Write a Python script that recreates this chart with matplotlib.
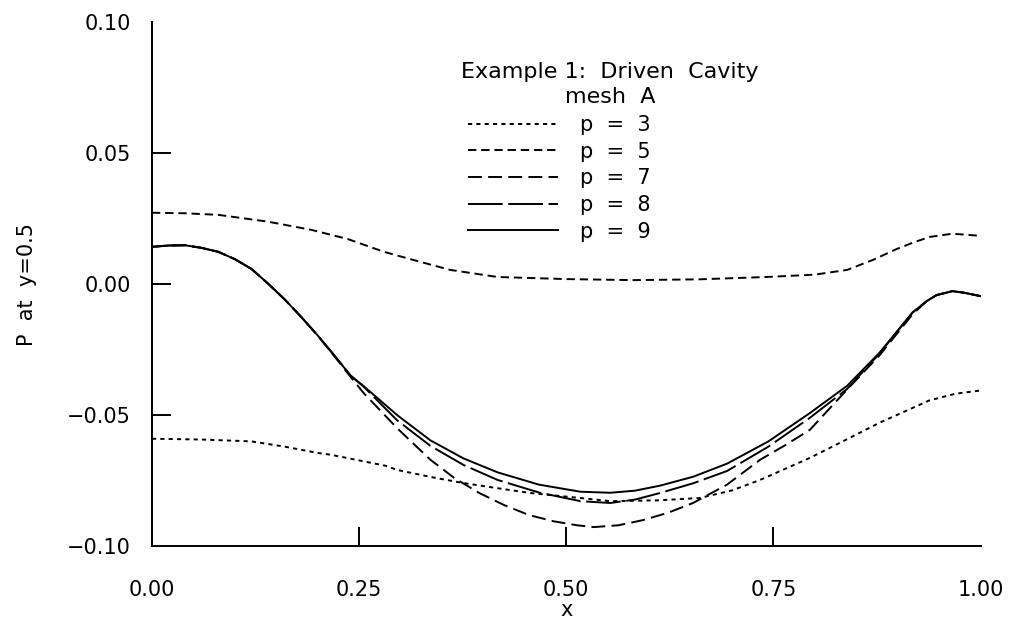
import matplotlib
matplotlib.use("Agg")
import matplotlib.pyplot as plt

plt.rcParams['font.family'] = ['DejaVu Sans']
plt.rcParams['lines.scale_dashes'] = False

# ---- data ----
x_p3 = [0.0, 0.06, 0.12, 0.16, 0.20, 0.216, 0.282, 0.296, 0.34, 0.376, 0.42, 0.457, 0.517, 0.553, 0.61,
        0.661, 0.70, 0.734, 0.794, 0.84, 0.878, 0.938, 0.97, 1.0]
y_p3 = [-0.0590, -0.0593, -0.0600, -0.0620, -0.0644, -0.0651, -0.0693, -0.0709, -0.0738, -0.0759, -0.0780,
        -0.0797, -0.0816, -0.0828, -0.0825, -0.0816, -0.0787, -0.0747, -0.0663, -0.0590, -0.0529, -0.0444,
        -0.0418, -0.0406]

x_p5 = [0.0, 0.04, 0.080, 0.140, 0.192, 0.236, 0.280, 0.32, 0.360, 0.417, 0.50, 0.581, 0.66, 0.742, 0.80,
        0.839, 0.87, 0.899, 0.92, 0.939, 0.966, 1.0]
y_p5 = [0.0272, 0.0270, 0.0264, 0.0238, 0.0207, 0.0172, 0.0123, 0.0088, 0.0054, 0.0027, 0.0019, 0.0015,
        0.0018, 0.0027, 0.0036, 0.0054, 0.0092, 0.0134, 0.0160, 0.0180, 0.0192, 0.0184]

x_p7 = [0.0, 0.02, 0.04, 0.06, 0.08, 0.10, 0.12, 0.14, 0.16, 0.18, 0.20, 0.22, 0.24, 0.255, 0.296, 0.336,
        0.365, 0.395, 0.425, 0.455, 0.485, 0.513, 0.533, 0.563, 0.593, 0.623, 0.653, 0.694, 0.734, 0.764,
        0.794, 0.839, 0.878, 0.918, 0.935, 0.947, 0.966, 0.98, 1.0]
y_p7 = [0.0142, 0.0147, 0.0148, 0.0138, 0.0123, 0.0095, 0.0058, 0.0002, -0.0058, -0.0125, -0.0196, -0.0275,
        -0.0355, -0.0414, -0.0550, -0.0670, -0.0740, -0.0797, -0.0843, -0.0881, -0.0905, -0.0920, -0.0927,
        -0.0920, -0.0900, -0.0872, -0.0835, -0.0765, -0.0670, -0.0615, -0.0556, -0.0402, -0.0272, -0.0115,
        -0.0065, -0.0042, -0.0027, -0.0033, -0.0046]

x_p8 = [0.0, 0.02, 0.04, 0.06, 0.08, 0.10, 0.12, 0.14, 0.16, 0.18, 0.20, 0.22, 0.24, 0.255, 0.296, 0.336,
        0.376, 0.417, 0.467, 0.517, 0.553, 0.583, 0.613, 0.653, 0.694, 0.744, 0.794, 0.839, 0.878, 0.918,
        0.935, 0.947, 0.966, 0.98, 1.0]
y_p8 = [0.0142, 0.0147, 0.0148, 0.0138, 0.0123, 0.0095, 0.0058, 0.0002, -0.0058, -0.0125, -0.0196, -0.0272,
        -0.0350, -0.0390, -0.0520, -0.0617, -0.0690, -0.0747, -0.0795, -0.0828, -0.0835, -0.0822, -0.0797,
        -0.0760, -0.0713, -0.0620, -0.0510, -0.0400, -0.0265, -0.0108, -0.0065, -0.0042, -0.0027, -0.0033,
        -0.0046]

x_p9 = [0.0, 0.02, 0.04, 0.06, 0.08, 0.10, 0.12, 0.14, 0.16, 0.18, 0.20, 0.22, 0.24, 0.255, 0.296, 0.336,
        0.376, 0.417, 0.467, 0.517, 0.553, 0.583, 0.613, 0.653, 0.694, 0.744, 0.794, 0.839, 0.878, 0.918,
        0.935, 0.947, 0.966, 0.98, 1.0]
y_p9 = [0.0142, 0.0147, 0.0148, 0.0138, 0.0123, 0.0095, 0.0058, 0.0002, -0.0058, -0.0125, -0.0196, -0.0272,
        -0.0350, -0.0388, -0.0500, -0.0596, -0.0665, -0.0718, -0.0765, -0.0792, -0.0796, -0.0788, -0.0769,
        -0.0735, -0.0685, -0.0600, -0.0492, -0.0388, -0.0262, -0.0108, -0.0065, -0.0042, -0.0027, -0.0033,
        -0.0046]

labels = ["p  =  3", "p  =  5", "p  =  7", "p  =  8", "p  =  9"]
x_ticks = [0.0, 0.25, 0.50, 0.75, 1.00]
x_ticklabels = ["0.00", "0.25", "0.50", "0.75", "1.00"]
y_ticks = [-0.10, -0.05, 0.00, 0.05, 0.10]
y_ticklabels = ["\u22120.10", "\u22120.05", "0.00", "0.05", "0.10"]

# ---- figure ----
fig = plt.figure(figsize=(10.13, 6.25), dpi=100)
ax = fig.add_axes([0.150, 0.126, 0.818, 0.839])

lw = 1.4
ax.plot(x_p3, y_p3, color='black', lw=lw, linestyle=(0, (3.0, 3.0)), label=labels[0])
ax.plot(x_p5, y_p5, color='black', lw=lw, linestyle=(0, (6.0, 3.5)), label=labels[1])
ax.plot(x_p7, y_p7, color='black', lw=lw, linestyle=(0, (10.0, 4.5)), label=labels[2])
ax.plot(x_p8, y_p8, color='black', lw=lw, linestyle=(0, (25.0, 4.0)), label=labels[3])
ax.plot(x_p9, y_p9, color='black', lw=lw, linestyle='-', label=labels[4])

ax.set_xlim(0, 1.0)
ax.set_ylim(-0.10, 0.10)
for s in ['top', 'right']:
    ax.spines[s].set_visible(False)
for s in ['left', 'bottom']:
    ax.spines[s].set_linewidth(1.4)

ax.set_xticks(x_ticks)
ax.set_xticklabels(x_ticklabels)
ax.set_yticks(y_ticks)
ax.set_yticklabels(y_ticklabels)
ax.tick_params(axis='both', direction='in', length=14, width=1.4, labelsize=15)
ax.tick_params(axis='x', pad=24)
ax.tick_params(axis='y', pad=15)
for t in (ax.xaxis.get_major_ticks()[0], ax.xaxis.get_major_ticks()[-1],
          ax.yaxis.get_major_ticks()[0], ax.yaxis.get_major_ticks()[-1]):
    t.tick1line.set_visible(False)

ax.set_xlabel("x", fontsize=15, labelpad=0)
ax.set_ylabel("P  at  y=0.5", fontsize=15, labelpad=22)

fig.text(610 / 1013, 1 - 72 / 625, "Example 1:  Driven  Cavity", ha='center', va='center', fontsize=16)
fig.text(610 / 1013, 1 - 97 / 625, "mesh  A", ha='center', va='center', fontsize=16)

leg = ax.legend(loc='upper left', bbox_to_anchor=(468 / 1013, 1 - 115 / 625), bbox_transform=fig.transFigure,
                frameon=False, fontsize=15, handlelength=4.3, handletextpad=1.1,
                labelspacing=0.32, borderpad=0, borderaxespad=0)

fig.savefig("out.png", dpi=100)
